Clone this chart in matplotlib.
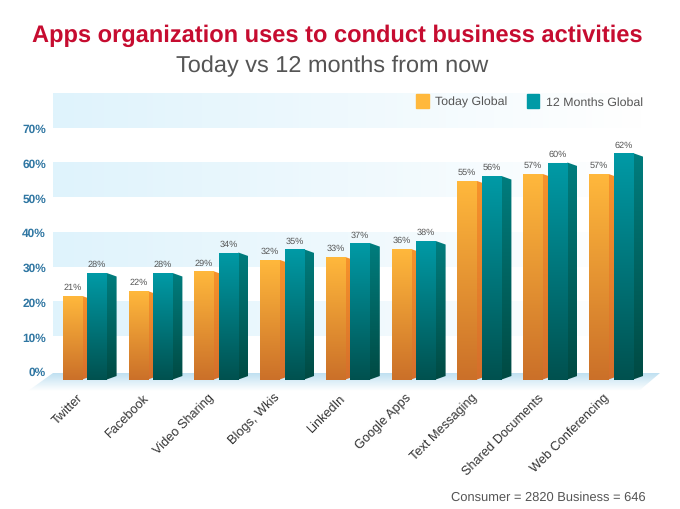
import numpy as np
import matplotlib
matplotlib.use('Agg')
import matplotlib.pyplot as plt
from matplotlib.colors import to_rgb
from matplotlib.patches import Patch, Polygon

plt.rcParams['font.family'] = ['Liberation Sans', 'DejaVu Sans']
plt.rcParams['text.hinting'] = 'no_hinting'

categories = ['Twitter', 'Facebook', 'Video Sharing', 'Blogs, Wkis', 'LinkedIn',
              'Google Apps', 'Text Messaging', 'Shared Documents', 'Web Conferencing']
# drawn heights, printed labels differ a little
today_heights = [21.6, 23.0, 28.7, 32.0, 32.8, 35.1, 54.7, 56.7, 56.7]
months_heights = [28.2, 28.2, 34.1, 35.0, 36.8, 37.4, 56.1, 60.0, 62.7]
today_labels = ['21%', '22%', '29%', '32%', '33%', '36%', '55%', '57%', '57%']
months_labels = ['28%', '28%', '34%', '35%', '37%', '38%', '56%', '60%', '62%']
yticks = [0, 10, 20, 30, 40, 50, 60, 70]
band_ranges = [(10, 20), (30, 40), (50, 60), (70, 80)]

W, H = 680, 510
PX_X = 65.8   # pixels per category
PX_Y = 3.475  # pixels per percent
BASE = -2.45


def gradient(ax, c0, c1, extent, vertical=True, clip=None, z=2):
    # c0 = top or left colour, c1 = bottom or right colour
    t = np.linspace(0, 1, 128)
    c0, c1 = np.array(to_rgb(c0)), np.array(to_rgb(c1))
    img = c0[None, :] * (1 - t)[:, None] + c1[None, :] * t[:, None]
    img = img[:, None, :] if vertical else img[None, :, :]
    im = ax.imshow(img, extent=extent, origin='upper', aspect='auto',
                   interpolation='bilinear', zorder=z)
    if clip is not None:
        im.set_clip_box(ax.figure.bbox)
        ax.add_patch(clip)
        clip.set_visible(False)
        im.set_clip_path(clip)
    return im


def side_face(ax, x, top, w_px, drop_px, rise_px, c0, c1, z):
    dx = w_px / PX_X
    pts = [(x, top), (x + dx, top - drop_px / PX_Y),
           (x + dx, BASE + rise_px / PX_Y), (x, BASE)]
    poly = Polygon(pts, closed=True, transform=ax.transData)
    gradient(ax, c0, c1, (x, x + dx, BASE, top), clip=poly, z=z)


fig = plt.figure(figsize=(W / 100, H / 100), dpi=100)
ax = fig.add_axes([53 / W, 1 - 396 / H, (660 - 53) / W, (396 - 94) / H])
ax.set_autoscale_on(False)
ax.set_xlim((53 - 62.7) / PX_X, (660 - 62.7) / PX_X)
ax.set_ylim((372 - 396) / PX_Y, (372 - 94) / PX_Y)
x0, x1 = ax.get_xlim()

for lo, hi in band_ranges:
    gradient(ax, '#dff3fc', '#ffffff', (x0, x0 + 590 / PX_X, lo, hi), vertical=False, z=0)

# floor of the 3d plot
fl_l, fl_r = (28 - 62.7) / PX_X, (640 - 62.7) / PX_X
floor = Polygon([(x0, (372 - 374) / PX_Y), (x1, (372 - 374) / PX_Y),
                 (fl_r, (372 - 391) / PX_Y), (fl_l, (372 - 392) / PX_Y)],
                closed=True, transform=ax.transData)
gradient(ax, '#bfe0f1', '#ffffff', (fl_l, x1, (372 - 392) / PX_Y, (372 - 374) / PX_Y), clip=floor, z=1)

pos = np.arange(len(categories))
w_front = 19.5 / PX_X
teal_off = 24.6 / PX_X

for i in pos:
    xa, xb = i, i + teal_off
    ta, tb = today_heights[i], months_heights[i]

    side_face(ax, xa + w_front, ta, 5.5, 2, 2, '#f7932c', '#d46e2b', 3)
    bar = ax.bar(xa, ta - BASE, w_front, bottom=BASE, align='edge', color='none', zorder=4)[0]
    gradient(ax, '#ffb83c', '#cb7029', (xa, xa + w_front, BASE, ta), clip=None, z=4).set_clip_path(bar)

    side_face(ax, xb + w_front, tb, 9.8, 3.5, 3.5, '#007d7e', '#004a43', 5)
    bar = ax.bar(xb, tb - BASE, w_front, bottom=BASE, align='edge', color='none', zorder=6)[0]
    gradient(ax, '#009aa6', '#00514f', (xb, xb + w_front, BASE, tb), clip=None, z=6).set_clip_path(bar)

    ax.text(xa + w_front / 2, ta + 9 / PX_Y, today_labels[i], ha='center', va='center',
            fontsize=6.6, color='#555555', zorder=8)
    ax.text(xb + w_front / 2, tb + 9 / PX_Y, months_labels[i], ha='center', va='center',
            fontsize=6.6, color='#555555', zorder=8)

for s in ax.spines.values():
    s.set_visible(False)
ax.set_yticks(yticks)
ax.set_yticklabels([f'{v}%' for v in yticks], fontsize=8.6, fontweight='bold', color='#2f76a2',
                   va='center_baseline')
ax.set_xticks(pos + 0.21)
ax.set_xticklabels(categories, rotation=45, ha='right', va='top', rotation_mode='anchor',
                   fontsize=9.2, color='#333333')
ax.tick_params(axis='y', length=0, pad=5)
ax.tick_params(axis='x', length=0, pad=-3)

handles = [Patch(color='#ffb83c', label='Today Global'), Patch(color='#009aa6', label='12 Months Global')]
ax.legend(handles=handles, ncol=2, frameon=False, fontsize=8.9, loc='upper right',
          bbox_to_anchor=(643 / W, 1 - 94.5 / H), bbox_transform=fig.transFigure,
          handlelength=1.0, handleheight=1.45, handletextpad=0.55, columnspacing=1.55,
          labelcolor='#555555', borderpad=0, borderaxespad=0)

fig.text(337.5 / W, 1 - 36 / H, 'Apps organization uses to conduct business activities',
         ha='center', va='center', fontsize=17, fontweight='bold', color='#c60c30')
fig.text(332.5 / W, 1 - 66 / H, 'Today vs 12 months from now', ha='center', va='center',
         fontsize=16.9, color='#555555')
fig.text(548 / W, 1 - 498 / H, 'Consumer = 2820 Business = 646', ha='center', va='center',
         fontsize=9.3, color='#555555')

fig.savefig('out.png', dpi=100)
